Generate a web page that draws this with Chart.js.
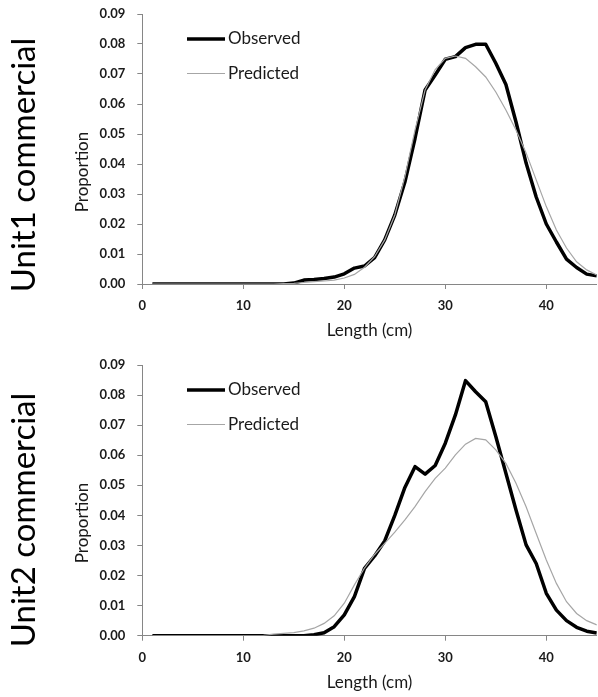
<!DOCTYPE html>
<html><head><meta charset="utf-8">
<script src="https://cdn.jsdelivr.net/npm/chart.js@4.4.0/dist/chart.umd.min.js"></script>
<style>
html,body{margin:0;padding:0;background:#fff;}
#wrap{position:relative;width:598px;height:697px;overflow:hidden;background:#fff;}
canvas{position:absolute;left:0;top:0;}
</style></head><body>
<div id="wrap"><canvas id="c1" width="598" height="697"></canvas><canvas id="c2" width="598" height="697"></canvas></div>
<script>
const lengths = [1,2,3,4,5,6,7,8,9,10,11,12,13,14,15,16,17,18,19,20,21,22,23,24,25,26,27,28,29,30,31,32,33,34,35,36,37,38,39,40,41,42,43,44,45];
const unit1Observed = [0,0,0,0,0,0,0,0,0,0,0,0,0,0,0.0003,0.0013,0.0015,0.0018,0.0023,0.0034,0.0053,0.006,0.0088,0.0147,0.023,0.034,0.0485,0.0647,0.0697,0.0749,0.0758,0.0788,0.0799,0.0799,0.0736,0.0665,0.054,0.0403,0.029,0.020,0.014,0.0083,0.0055,0.0033,0.0027];
const unit1Predicted = [0,0,0,0,0,0,0,0,0,0,0,0,0,0.0001,0.0002,0.0005,0.0008,0.001,0.0013,0.002,0.0032,0.0056,0.0091,0.0147,0.023,0.0358,0.0513,0.0647,0.0715,0.0752,0.076,0.0752,0.0724,0.069,0.064,0.058,0.0513,0.0437,0.0347,0.0258,0.018,0.012,0.0074,0.0047,0.003];
const unit2Observed = [0,0,0,0,0,0,0,0,0,0,0,0,0,0,0,0,0.0003,0.001,0.003,0.0069,0.013,0.0224,0.0265,0.0315,0.040,0.0493,0.0562,0.0537,0.0566,0.064,0.0734,0.0848,0.0811,0.0778,0.0662,0.054,0.0418,0.0302,0.024,0.0141,0.0085,0.005,0.0028,0.0015,0.0009];
const unit2Predicted = [0,0,0,0,0,0,0,0,0,0,0,0.0001,0.0005,0.0008,0.001,0.0016,0.0025,0.0041,0.0066,0.0108,0.0169,0.0225,0.027,0.0307,0.0344,0.0385,0.0429,0.0479,0.0523,0.0557,0.0601,0.0637,0.0656,0.0651,0.0618,0.0573,0.0507,0.0429,0.034,0.0252,0.0174,0.0113,0.0074,0.005,0.0036];
const panelTitles = ['Unit1 commercial', 'Unit2 commercial'];
const seriesNames = ['Observed', 'Predicted'];
const xTitle = 'Length (cm)';
const yTitle = 'Proportion';

const FONT = 'Lato, Carlito, Calibri, sans-serif';
const TEXT = '#1a1a1a';
const AXIS = '#868686';
const W = 598, H = 697;
const PLOT_LEFT = 142.3, PLOT_RIGHT = 596.8, XH = 60;

const extras = {
  id: 'extras',
  afterDraw(chart, args, o) {
    const ctx = chart.ctx, a = chart.chartArea;
    ctx.save();
    // legend
    ctx.lineCap = 'butt';
    ctx.strokeStyle = '#000'; ctx.lineWidth = 3.5;
    ctx.beginPath(); ctx.moveTo(187, a.top + 25); ctx.lineTo(225, a.top + 25); ctx.stroke();
    ctx.strokeStyle = '#a6a6a6'; ctx.lineWidth = 1.2;
    ctx.beginPath(); ctx.moveTo(187, a.top + 59.5); ctx.lineTo(225, a.top + 59.5); ctx.stroke();
    ctx.fillStyle = TEXT;
    ctx.font = '17px ' + FONT;
    ctx.textAlign = 'left'; ctx.textBaseline = 'middle';
    ctx.fillText(seriesNames[0], 228, a.top + 25);
    ctx.fillText(seriesNames[1], 228, a.top + 59.5);
    // x title
    ctx.textAlign = 'center'; ctx.textBaseline = 'alphabetic';
    ctx.font = '17px ' + FONT;
    ctx.fillText(xTitle, (a.left + a.right) / 2, a.bottom + 52);
    // y title
    ctx.save();
    ctx.translate(83, a.top + 158); ctx.rotate(-Math.PI / 2);
    ctx.textAlign = 'center'; ctx.textBaseline = 'middle';
    ctx.font = '17px ' + FONT;
    ctx.fillText(yTitle, 0, 0);
    ctx.restore();
    // panel title
    ctx.save();
    ctx.translate(24, a.top + o.titleOffset); ctx.rotate(-Math.PI / 2);
    ctx.textAlign = 'center'; ctx.textBaseline = 'middle';
    ctx.fillStyle = '#000';
    ctx.font = '33px ' + FONT;
    ctx.fillText(o.title, 0, 0);
    ctx.restore();
    ctx.restore();
  }
};

function makeChart(id, obs, pred, top, bottom, title, titleOffset) {
  const pts = arr => lengths.map((x, i) => ({x: x, y: arr[i]}));
  return new Chart(document.getElementById(id), {
    type: 'line',
    data: { datasets: [
      {label: seriesNames[0], data: pts(obs), borderColor: '#000', borderWidth: 3.5, pointRadius: 0, tension: 0, borderJoinStyle: 'round', order: 2},
      {label: seriesNames[1], data: pts(pred), borderColor: '#a6a6a6', borderWidth: 1.2, pointRadius: 0, tension: 0, order: 1}
    ]},
    options: {
      responsive: false, animation: false, devicePixelRatio: 1,
      layout: {padding: {left: 0, right: W - PLOT_RIGHT, top: top, bottom: H - bottom - XH}},
      plugins: {legend: {display: false}, tooltip: {enabled: false}, extras: {title: title, titleOffset: titleOffset}},
      scales: {
        x: {type: 'linear', min: 0, max: 45,
            afterFit(s) { s.height = XH; s.paddingLeft = 0; s.paddingRight = 0; },
            ticks: {stepSize: 10, includeBounds: false, padding: 9, color: TEXT, font: {family: FONT, size: 13, weight: 'bold'}},
            grid: {drawOnChartArea: false, tickLength: 5, color: AXIS},
            border: {color: AXIS, width: 1}},
        y: {type: 'linear', min: 0, max: 0.09,
            afterFit(s) { s.width = PLOT_LEFT; s.paddingTop = 0; s.paddingBottom = 0; },
            ticks: {stepSize: 0.01, padding: 12, color: TEXT, font: {family: FONT, size: 13, weight: 'bold'}, callback: v => v.toFixed(2)},
            grid: {drawOnChartArea: false, tickLength: 5, color: AXIS},
            border: {color: AXIS, width: 1}}
      }
    },
    plugins: [extras]
  });
}
makeChart('c1', unit1Observed, unit1Predicted, 14, 284, panelTitles[0], 151);
makeChart('c2', unit2Observed, unit2Predicted, 365, 635.7, panelTitles[1], 155);
</script>
</body></html>
